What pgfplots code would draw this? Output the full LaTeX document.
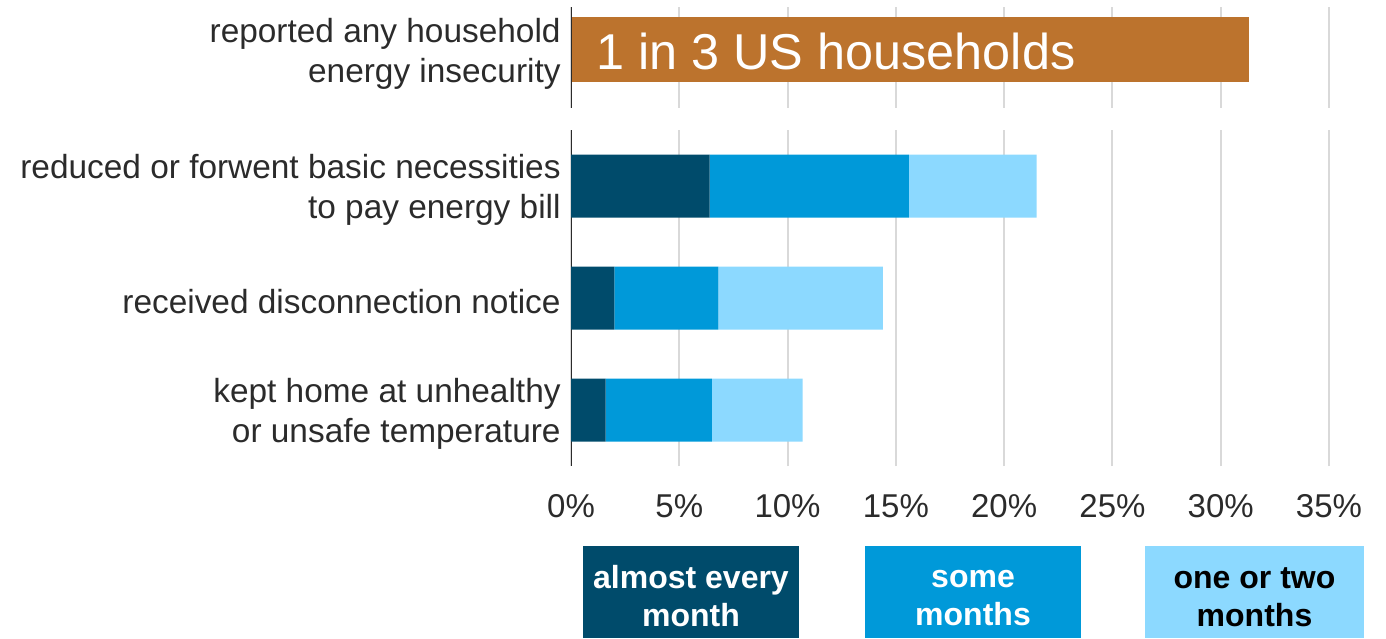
\documentclass[border=0pt]{standalone}
\usepackage{pgfplots}
\pgfplotsset{compat=1.18}
\usepackage{fontspec}
\setmainfont{Liberation Sans}
\definecolor{cdark}{HTML}{004B6B}
\definecolor{cmid}{HTML}{0099D9}
\definecolor{clight}{HTML}{8CD9FF}
\definecolor{cbrown}{HTML}{BC732D}
\definecolor{cgrid}{HTML}{D9D9D9}
\definecolor{ctext}{HTML}{2B2B2B}
\pgfplotsset{mybase/.style={
  scale only axis, width=379pt, xmin=0, xmax=35,
  xtick={0,5,...,35}, xmajorgrids, grid style={cgrid, line width=1pt},
  axis line style={draw=none}, major tick length=0pt,
  tick style={draw=none},
  yticklabel style={align=right, inner sep=0pt, xshift=-5pt, yshift=-2pt, text=ctext, font=\fontsize{16.7}{20}\selectfont},
  xticklabel style={inner sep=0pt, yshift=-14pt, text=ctext, font=\fontsize{16.5}{20}\selectfont},
}}
\begin{document}
\begin{tikzpicture}[x=1pt,y=1pt]
\useasboundingbox (0,0) rectangle (693,319);
\begin{axis}[mybase, at={(285.5pt,265pt)}, anchor=south west, height=50.5pt,
  ymin=0, ymax=1, ytick={0.58},
  yticklabels={{reported any household\\energy insecurity}},
  xticklabels={}, xbar, bar width=32.5pt]
\addplot[fill=cbrown, draw=none] coordinates {(31.3,0.58)};
\node[anchor=west, inner sep=0pt, text=white, font=\fontsize{25.2}{30}\selectfont] at (axis cs:1.15,0.56) {1 in 3 US households};
\draw[ctext, line width=1pt] (rel axis cs:0,0) -- (rel axis cs:0,1);
\end{axis}
\begin{axis}[mybase, at={(285.5pt,86pt)}, anchor=south west, height=168pt,
  ymin=0.5, ymax=3.5, ytick={1,2,3},
  yticklabels={{kept home at unhealthy\\or unsafe temperature},{received disconnection notice},{reduced or forwent basic necessities\\to pay energy bill}},
  xticklabels={0\%,5\%,10\%,15\%,20\%,25\%,30\%,35\%},
  xbar stacked, bar width=31.5pt]
\addplot[fill=cdark, draw=none] coordinates {(1.6,1) (2.0,2) (6.4,3)};
\addplot[fill=cmid, draw=none] coordinates {(4.9,1) (4.8,2) (9.2,3)};
\addplot[fill=clight, draw=none] coordinates {(4.2,1) (7.6,2) (5.9,3)};
\draw[ctext, line width=1pt] (rel axis cs:0,0) -- (rel axis cs:0,1);
\end{axis}
\fill[cdark] (291.5,0) rectangle (399.5,46);
\node[align=center, text=white, font=\bfseries\fontsize{16}{19}\selectfont] at (345.5,21) {almost every\\month};
\fill[cmid] (432.5,0) rectangle (540.5,46);
\node[align=center, text=white, font=\bfseries\fontsize{16}{19}\selectfont] at (486.5,19.8) {some\\months};
\fill[clight] (572.5,0) rectangle (682,46);
\node[align=center, text=black, font=\bfseries\fontsize{16}{19}\selectfont] at (627.25,20.5) {one or two\\months};
\end{tikzpicture}
\end{document}
